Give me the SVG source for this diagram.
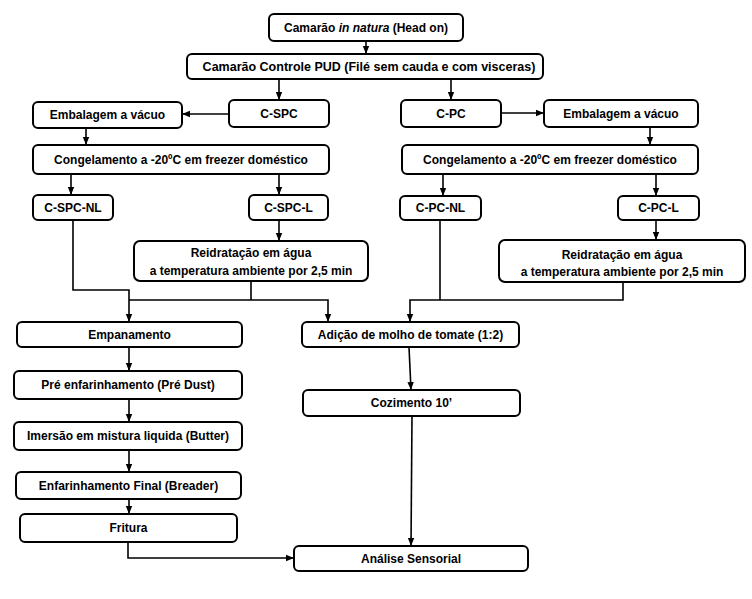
<svg xmlns="http://www.w3.org/2000/svg" width="752" height="599" viewBox="0 0 752 599">
<defs>
<style>
.b{fill:#fff;stroke:#000;stroke-width:2}
.t{font-family:"Liberation Sans",Arial,sans-serif;font-size:12px;font-weight:bold;fill:#000;text-anchor:middle}
.c{fill:none;stroke:#000;stroke-width:1.6}
</style>
<marker id="ah" markerUnits="userSpaceOnUse" markerWidth="8" markerHeight="8" viewBox="0 0 8 8" refX="8" refY="4" orient="auto">
<path d="M0,0.8 L8,4 L0,7.2 Z" fill="#000"/>
</marker>
</defs>
<rect width="752" height="599" fill="#fff"/>
<g id="connectors">
<path class="c" d="M366,41 V54" marker-end="url(#ah)"/>
<path class="c" d="M279,79 V100" marker-end="url(#ah)"/>
<path class="c" d="M451,79 V100" marker-end="url(#ah)"/>
<path class="c" d="M229,114 H182" marker-end="url(#ah)"/>
<path class="c" d="M501,113 H544" marker-end="url(#ah)"/>
<path class="c" d="M86,128 V145" marker-end="url(#ah)"/>
<path class="c" d="M650,127 V145" marker-end="url(#ah)"/>
<path class="c" d="M71,174 V195" marker-end="url(#ah)"/>
<path class="c" d="M279,174 V195" marker-end="url(#ah)"/>
<path class="c" d="M443,174 V196" marker-end="url(#ah)"/>
<path class="c" d="M656,174 V196" marker-end="url(#ah)"/>
<path class="c" d="M279,220 V241" marker-end="url(#ah)"/>
<path class="c" d="M656,220 V240" marker-end="url(#ah)"/>
<path class="c" d="M73,220 V290 H129 V322" marker-end="url(#ah)"/>
<path class="c" d="M251,281 V300 M129,300 H328 V322" marker-end="url(#ah)"/>
<path class="c" d="M440,220 V300 M623,282 V300 H410 V322" marker-end="url(#ah)"/>
<path class="c" d="M129,347 V371" marker-end="url(#ah)"/>
<path class="c" d="M129,399 V422" marker-end="url(#ah)"/>
<path class="c" d="M129,450 V472" marker-end="url(#ah)"/>
<path class="c" d="M129,499 V514" marker-end="url(#ah)"/>
<path class="c" d="M128,542 V558 H294" marker-end="url(#ah)"/>
<path class="c" d="M409,347 L411,390" marker-end="url(#ah)"/>
<path class="c" d="M412,416 L411,546" marker-end="url(#ah)"/>
</g>
<g id="innatura"><rect class="b" x="269" y="14" width="194" height="27" rx="5"/><text class="t" x="366" y="32">Camarão <tspan font-style="italic">in natura</tspan> (Head on)</text></g>
<g id="pud"><rect class="b" x="187" y="54" width="356" height="25" rx="5"/><text class="t" x="369" y="71" style="font-size:12.5px">Camarão Controle PUD (Filé sem cauda e com visceras)</text></g>
<g id="cspc"><rect class="b" x="229" y="100" width="100" height="27" rx="5"/><text class="t" x="279" y="118">C-SPC</text></g>
<g id="emb1"><rect class="b" x="33" y="102" width="149" height="26" rx="5"/><text class="t" x="107.5" y="119">Embalagem a vácuo</text></g>
<g id="cpc"><rect class="b" x="401" y="100" width="100" height="27" rx="5"/><text class="t" x="451" y="118">C-PC</text></g>
<g id="emb2"><rect class="b" x="544" y="100" width="154" height="27" rx="5"/><text class="t" x="621" y="118">Embalagem a vácuo</text></g>
<g id="cong1"><rect class="b" x="33" y="145" width="296" height="29" rx="5"/><text class="t" x="181" y="164">Congelamento a -20ºC em freezer doméstico</text></g>
<g id="cong2"><rect class="b" x="402" y="145" width="296" height="29" rx="5"/><text class="t" x="550" y="164">Congelamento a -20ºC em freezer doméstico</text></g>
<g id="cspcnl"><rect class="b" x="33" y="195" width="80" height="25" rx="5"/><text class="t" x="73" y="212">C-SPC-NL</text></g>
<g id="cspcl"><rect class="b" x="249" y="195" width="79" height="25" rx="5"/><text class="t" x="288.5" y="212">C-SPC-L</text></g>
<g id="cpcnl"><rect class="b" x="400" y="196" width="81" height="24" rx="5"/><text class="t" x="440.5" y="212">C-PC-NL</text></g>
<g id="cpcl"><rect class="b" x="618" y="196" width="81" height="24" rx="5"/><text class="t" x="658.5" y="212">C-PC-L</text></g>
<g id="reid1"><rect class="b" x="134" y="241" width="234" height="40" rx="6"/><text class="t" x="251" y="257">Reidratação em água</text><text class="t" x="251" y="275">a temperatura ambiente  por 2,5 min</text></g>
<g id="reid2"><rect class="b" x="499" y="240" width="246" height="42" rx="6"/><text class="t" x="622" y="259">Reidratação em água</text><text class="t" x="622" y="276">a temperatura ambiente  por 2,5 min</text></g>
<g id="empan"><rect class="b" x="17" y="322" width="225" height="25" rx="5"/><text class="t" x="129.5" y="339">Empanamento</text></g>
<g id="adicao"><rect class="b" x="302" y="322" width="217" height="25" rx="5"/><text class="t" x="410.5" y="339">Adição de molho de tomate (1:2)</text></g>
<g id="pre"><rect class="b" x="14" y="371" width="228" height="28" rx="5"/><text class="t" x="128" y="389">Pré enfarinhamento  (Pré Dust)</text></g>
<g id="imersao"><rect class="b" x="14" y="422" width="228" height="28" rx="5"/><text class="t" x="128" y="440">Imersão em mistura liquida (Butter)</text></g>
<g id="enfar"><rect class="b" x="16" y="472" width="225" height="27" rx="5"/><text class="t" x="128.5" y="490">Enfarinhamento  Final (Breader)</text></g>
<g id="fritura"><rect class="b" x="20" y="514" width="217" height="28" rx="5"/><text class="t" x="128.5" y="532">Fritura</text></g>
<g id="cozimento"><rect class="b" x="303" y="390" width="217" height="26" rx="5"/><text class="t" x="411.5" y="407">Cozimento 10’</text></g>
<g id="analise"><rect class="b" x="294" y="546" width="234" height="25" rx="5"/><text class="t" x="411" y="563">Análise  Sensorial</text></g>
</svg>
